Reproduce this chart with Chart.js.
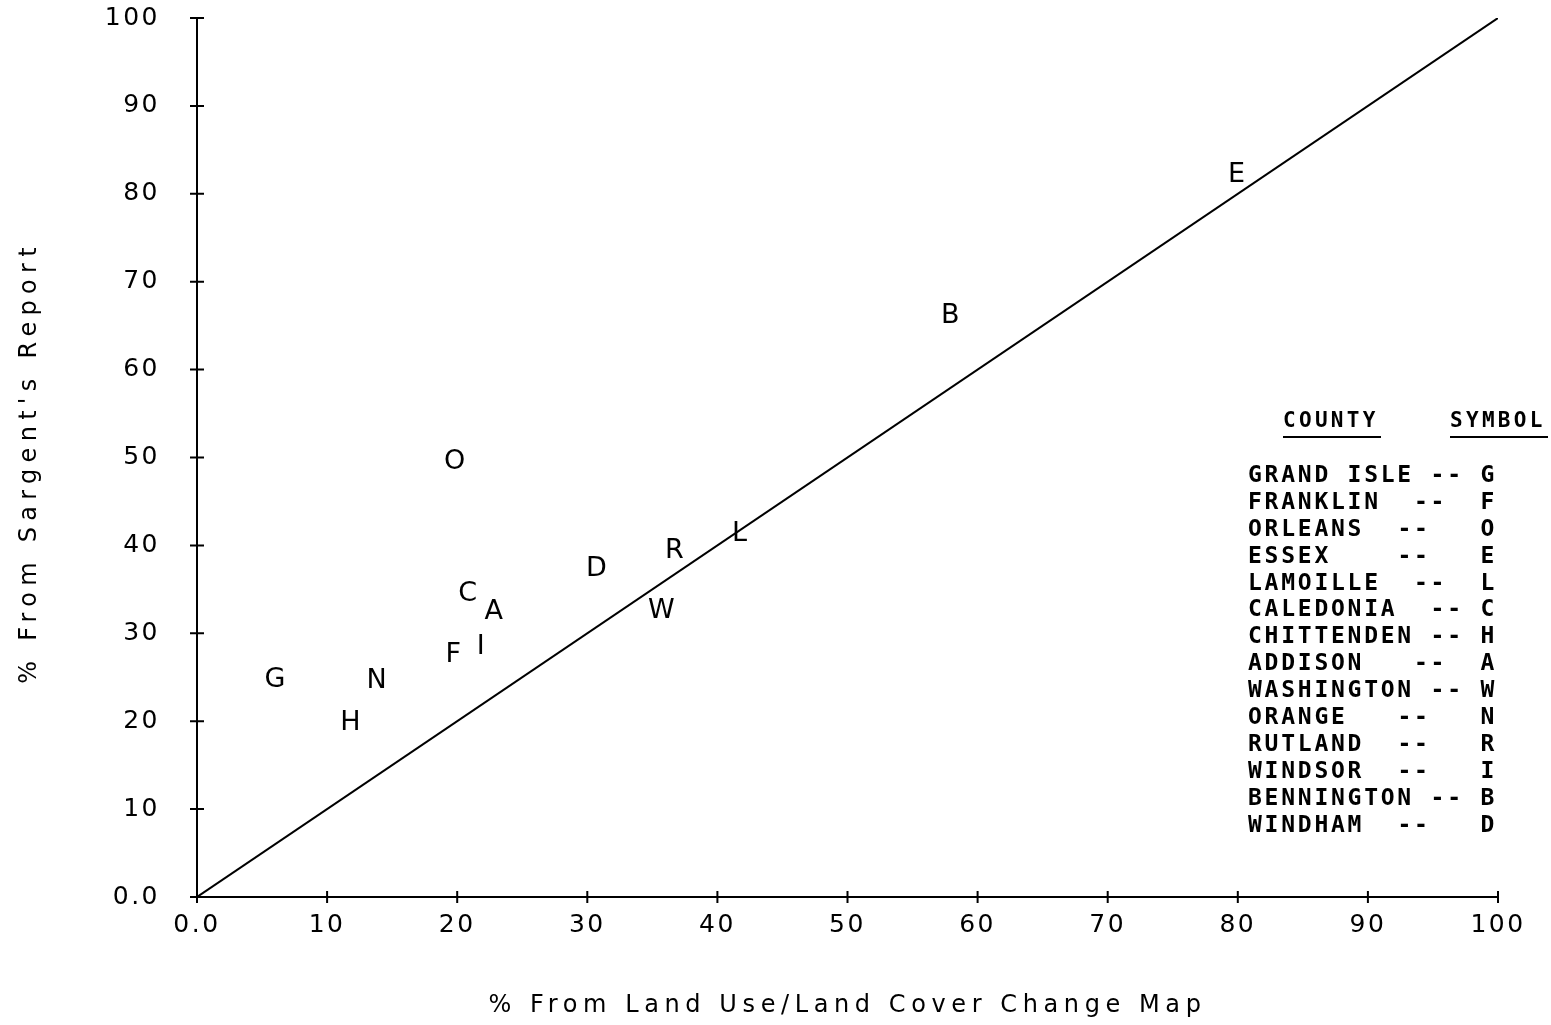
<!DOCTYPE html>
<html lang="en">
<head>
<meta charset="UTF-8">
<title>Sargent's Report vs Land Use/Land Cover Change Map</title>
<script src="https://cdn.jsdelivr.net/npm/chart.js"></script>
<style>
  html, body { margin: 0; padding: 0; background: #fff; }
  #wrap { width: 1551px; height: 1025px; }
</style>
</head>
<body>
<div id="wrap"><canvas id="countyChart"></canvas></div>
<script>
// one entry per county, same order as the legend table
const counties  = ['GRAND ISLE', 'FRANKLIN', 'ORLEANS', 'ESSEX', 'LAMOILLE', 'CALEDONIA', 'CHITTENDEN',
                   'ADDISON', 'WASHINGTON', 'ORANGE', 'RUTLAND', 'WINDSOR', 'BENNINGTON', 'WINDHAM'];
const symbols   = ['G', 'F', 'O', 'E', 'L', 'C', 'H', 'A', 'W', 'N', 'R', 'I', 'B', 'D'];
const mapPct    = [6.0, 19.7, 19.8, 79.9, 41.7, 20.8, 11.8, 22.8, 35.7, 13.8, 36.7, 21.8, 57.9, 30.7];
const reportPct = [24.7, 27.5, 49.5, 82.1, 41.3, 34.5, 19.8, 32.4, 32.5, 24.6, 39.4, 28.4, 66.1, 37.3];

// 1:1 reference line
const lineX = [0, 100];
const lineY = [0, 100];

const tickValues = [0, 10, 20, 30, 40, 50, 60, 70, 80, 90, 100];
const tickLabel = v => (v === 0 ? '0.0' : String(v));

const xTitle = '% From Land Use/Land Cover Change Map';
const yTitle = "% From Sargent's Report";

// column where the "--" starts in each legend row (monospace grid)
const dashCol = [11, 10, 9, 9, 10, 11, 11, 10, 11, 9, 9, 9, 11, 9];

// tick marks that cross the axis lines, like the plotter drew them
const crossTicks = {
  id: 'crossTicks',
  beforeDraw(chart) {
    chart.ctx.letterSpacing = '2.5px';
  },
  afterDraw(chart) {
    const ctx = chart.ctx;
    const xs = chart.scales.x, ys = chart.scales.y;
    const x0 = xs.getPixelForValue(0), y0 = ys.getPixelForValue(0);
    ctx.save();
    ctx.strokeStyle = '#000';
    ctx.lineWidth = 2;
    ctx.beginPath();
    tickValues.forEach(v => {
      const px = xs.getPixelForValue(v);
      ctx.moveTo(px, y0 - 6); ctx.lineTo(px, y0 + 6);
      const py = ys.getPixelForValue(v);
      ctx.moveTo(x0 - 7, py); ctx.lineTo(x0 + 7, py);
    });
    ctx.stroke();

    // axis titles
    const area = chart.chartArea;
    ctx.fillStyle = '#000';
    ctx.font = '24px "DejaVu Sans"';
    ctx.letterSpacing = '5.6px';
    ctx.textAlign = 'center';
    ctx.textBaseline = 'middle';
    ctx.fillText(xTitle, (area.left + area.right) / 2, 1006);
    ctx.translate(30, (area.top + area.bottom) / 2 + 5);
    ctx.rotate(-Math.PI / 2);
    ctx.letterSpacing = '6.3px';
    ctx.fillText(yTitle, 0, 0);
    ctx.restore();
  }
};

// county letters drawn at the scatter points
const letterMarks = {
  id: 'letterMarks',
  afterDatasetsDraw(chart) {
    const ctx = chart.ctx;
    const meta = chart.getDatasetMeta(0);
    ctx.save();
    ctx.fillStyle = '#000';
    ctx.font = '27px "DejaVu Sans"';
    ctx.letterSpacing = '0px';
    ctx.textAlign = 'center';
    ctx.textBaseline = 'middle';
    meta.data.forEach((pt, i) => {
      ctx.fillText(symbols[i], pt.x, pt.y);
    });
    ctx.restore();
  }
};

// the COUNTY / SYMBOL table on the right
const countyTable = {
  id: 'countyTable',
  afterDraw(chart) {
    const ctx = chart.ctx;
    const left = 1248, pitch = 16.6, top = 476, rowH = 26.9;
    ctx.save();
    ctx.fillStyle = '#000';
    ctx.strokeStyle = '#000';
    ctx.textAlign = 'left';
    ctx.textBaseline = 'middle';

    ctx.font = 'bold 21px "DejaVu Sans Mono"';
    ctx.letterSpacing = '3.3px';
    ctx.fillText('COUNTY', 1283, 422);
    ctx.fillText('SYMBOL', 1450, 422);
    ctx.lineWidth = 2;
    ctx.beginPath();
    ctx.moveTo(1283, 437); ctx.lineTo(1381, 437);
    ctx.moveTo(1450, 437); ctx.lineTo(1548, 437);
    ctx.stroke();

    ctx.font = 'bold 23px "DejaVu Sans Mono"';
    ctx.letterSpacing = '2.75px';
    counties.forEach((name, i) => {
      const y = top + i * rowH;
      ctx.fillText(name, left, y);
      ctx.fillText('--', left + dashCol[i] * pitch, y);
      ctx.fillText(symbols[i], left + 14 * pitch, y);
    });
    ctx.restore();
  }
};

const tickFont = { family: 'DejaVu Sans', size: 25 };

new Chart(document.getElementById('countyChart'), {
  type: 'scatter',
  data: {
    datasets: [
      {
        label: 'Counties',
        data: mapPct.map((x, i) => ({ x: x, y: reportPct[i] })),
        pointRadius: 0,
        pointHoverRadius: 0
      },
      {
        type: 'line',
        label: '1:1',
        data: lineX.map((x, i) => ({ x: x, y: lineY[i] })),
        borderColor: '#000',
        borderWidth: 2,
        pointRadius: 0,
        fill: false
      }
    ]
  },
  options: {
    responsive: true,
    maintainAspectRatio: false,
    animation: false,
    layout: { padding: { top: 18, right: 53, left: 0, bottom: 0 } },
    plugins: {
      legend: { display: false },
      tooltip: { enabled: false }
    },
    scales: {
      x: {
        type: 'linear',
        min: 0,
        max: 100,
        grid: { display: false, drawTicks: false },
        border: { display: true, color: '#000', width: 2 },
        ticks: { stepSize: 10, padding: 13, color: '#000', font: tickFont, maxRotation: 0, autoSkip: false, callback: tickLabel },
        afterFit: s => { s.height = 128; s.paddingLeft = 0; s.paddingRight = 0; }
      },
      y: {
        type: 'linear',
        min: 0,
        max: 100,
        grid: { display: false, drawTicks: false },
        border: { display: true, color: '#000', width: 2 },
        ticks: { stepSize: 10, padding: 37, color: '#000', font: tickFont, autoSkip: false, callback: tickLabel },
        afterFit: s => { s.width = 197; s.paddingTop = 0; s.paddingBottom = 0; }
      }
    }
  },
  plugins: [crossTicks, letterMarks, countyTable]
});
</script>
</body>
</html>
